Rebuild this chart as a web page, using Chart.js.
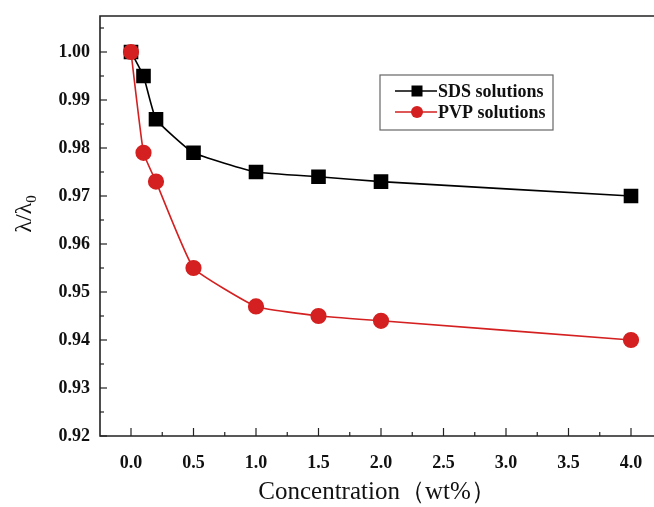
<!DOCTYPE html>
<html><head><meta charset="utf-8">
<script src="https://cdn.jsdelivr.net/npm/chart.js@4/dist/chart.umd.min.js"></script>
<style>html,body{margin:0;padding:0;background:#fff;overflow:hidden}#wrap{width:654px;height:507px}</style>
</head><body><div id="wrap"><canvas id="c" width="654" height="507"></canvas></div>
<script>
const concentration = [0, 0.1, 0.2, 0.5, 1.0, 1.5, 2.0, 4.0];
const sdsValues = [1.000, 0.995, 0.986, 0.979, 0.975, 0.974, 0.973, 0.970];
const pvpValues = [1.000, 0.979, 0.973, 0.955, 0.947, 0.945, 0.944, 0.940];
const xTicks = [0, 0.5, 1.0, 1.5, 2.0, 2.5, 3.0, 3.5, 4.0];
const yTicks = [0.92, 0.93, 0.94, 0.95, 0.96, 0.97, 0.98, 0.99, 1.00];
const seriesNames = ['SDS solutions', 'PVP solutions'];

const RED = '#d42020';
const serif = '"Liberation Serif", "Times New Roman", serif';

const framePlugin = {
  id: 'frame',
  afterDraw(chart) {
    const {ctx, chartArea: a, scales: {x, y}} = chart;
    ctx.save();
    ctx.strokeStyle = '#222';
    ctx.lineWidth = 1.6;
    ctx.beginPath();
    ctx.moveTo(654, a.top); ctx.lineTo(a.left, a.top); ctx.lineTo(a.left, a.bottom); ctx.lineTo(654, a.bottom);
    ctx.stroke();
    ctx.lineWidth = 1.2;
    for (let v = 0; v <= 4.0001; v += 0.25) {
      const px = x.getPixelForValue(v);
      const major = Math.abs(v / 0.5 - Math.round(v / 0.5)) < 1e-6;
      ctx.beginPath(); ctx.moveTo(px, a.bottom); ctx.lineTo(px, a.bottom - (major ? 8 : 4)); ctx.stroke();
    }
    for (let v = 0.92; v <= 1.0051; v += 0.005) {
      const py = y.getPixelForValue(v);
      const major = Math.abs(v / 0.01 - Math.round(v / 0.01)) < 1e-6;
      ctx.beginPath(); ctx.moveTo(a.left, py); ctx.lineTo(a.left + (major ? 7 : 4), py); ctx.stroke();
    }
    // y title with subscript
    ctx.fillStyle = '#111';
    ctx.translate(31, 214);
    ctx.rotate(-Math.PI / 2);
    ctx.font = '24px ' + serif;
    ctx.textBaseline = 'alphabetic';
    const t1 = 'λ/λ';
    const w1 = ctx.measureText(t1).width;
    ctx.font = '15px ' + serif;
    const w2 = ctx.measureText('0').width;
    const start = -(w1 + w2) / 2;
    ctx.font = '24px ' + serif;
    ctx.textAlign = 'left';
    ctx.fillText(t1, start, 0);
    ctx.font = '15px ' + serif;
    ctx.fillText('0', start + w1, 5);
    ctx.restore();

    // legend
    ctx.save();
    const lx = 380, ly = 75, lw = 173, lh = 55;
    ctx.strokeStyle = '#666';
    ctx.lineWidth = 1.2;
    ctx.strokeRect(lx, ly, lw, lh);
    const items = [
      {name: seriesNames[0], color: '#000', style: 'rect'},
      {name: seriesNames[1], color: RED, style: 'circle'}
    ];
    items.forEach((it, i) => {
      const cy = ly + 16 + i * 21;
      ctx.strokeStyle = it.color; ctx.lineWidth = 1.6;
      ctx.beginPath(); ctx.moveTo(lx + 15, cy); ctx.lineTo(lx + 57, cy); ctx.stroke();
      ctx.fillStyle = it.color;
      if (it.style === 'rect') ctx.fillRect(lx + 37 - 5.5, cy - 5.5, 11, 11);
      else { ctx.beginPath(); ctx.arc(lx + 37, cy, 6, 0, Math.PI * 2); ctx.fill(); }
      ctx.fillStyle = '#111';
      ctx.font = 'bold 18px ' + serif;
      ctx.textAlign = 'left'; ctx.textBaseline = 'middle';
      ctx.fillText(it.name, lx + 58, cy + 1);
    });
    ctx.restore();
  }
};

function zeroPad(s) { s.paddingTop = 0; s.paddingBottom = 0; s.paddingLeft = 0; s.paddingRight = 0; }

new Chart(document.getElementById('c'), {
  type: 'line',
  data: {
    datasets: [
      {
        label: seriesNames[0],
        data: concentration.map((c, i) => ({x: c, y: sdsValues[i]})),
        borderColor: '#000', backgroundColor: '#000',
        borderWidth: 1.6, pointStyle: 'rect', pointRadius: 9.2, pointHoverRadius: 9.2,
        tension: 0.12, order: 2
      },
      {
        label: seriesNames[1],
        data: concentration.map((c, i) => ({x: c, y: pvpValues[i]})),
        borderColor: RED, backgroundColor: RED,
        borderWidth: 1.6, pointStyle: 'circle', pointRadius: 7.3, pointHoverRadius: 7.3,
        tension: 0.12, order: 1
      }
    ]
  },
  options: {
    responsive: false,
    animation: false,
    events: [],
    layout: {autoPadding: false, padding: {top: 16, right: 0, left: 0, bottom: 0}},
    plugins: {legend: {display: false}, tooltip: {enabled: false}},
    scales: {
      x: {
        type: 'linear', min: -0.248, max: 4.184,
        afterBuildTicks: s => { s.ticks = xTicks.map(v => ({value: v})); },
        afterFit: s => { s.height = 71; zeroPad(s); },
        grid: {display: false, drawTicks: false},
        border: {display: false},
        ticks: {color: '#111', padding: 17, font: {family: serif, size: 18, weight: 'bold'},
                callback: v => Number(v).toFixed(1), maxRotation: 0, autoSkip: false},
        title: {display: true, text: 'Concentration（wt%）', color: '#111',
                font: {family: serif, size: 25}, padding: {top: 0, bottom: 0}}
      },
      y: {
        type: 'linear', min: 0.92, max: 1.0075,
        afterBuildTicks: s => { s.ticks = yTicks.map(v => ({value: v})); },
        afterFit: s => { s.width = 100; zeroPad(s); },
        grid: {display: false, drawTicks: false},
        border: {display: false},
        ticks: {color: '#111', padding: 10, font: {family: serif, size: 18, weight: 'bold'},
                callback: v => Number(v).toFixed(2), autoSkip: false}
      }
    }
  },
  plugins: [framePlugin]
});
</script></body></html>
